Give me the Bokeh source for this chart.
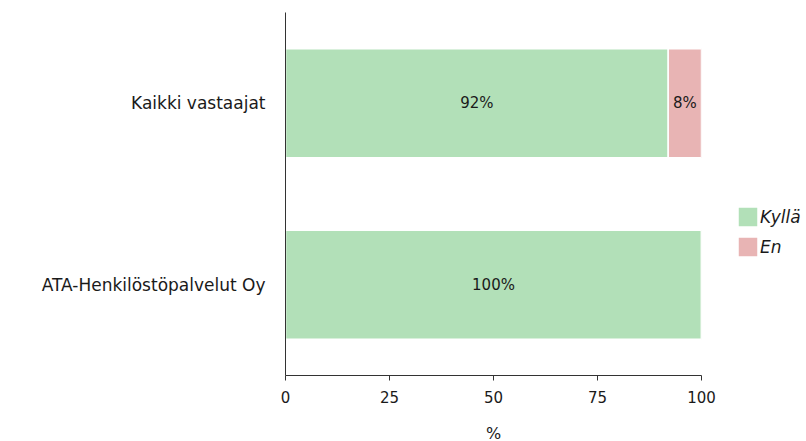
from bokeh.plotting import figure
from bokeh.models import ColumnDataSource, Legend, LegendItem, FactorRange
from bokeh.embed import file_html
from bokeh.resources import INLINE
from bokeh.core.properties import value

categories = ["ATA-Henkilöstöpalvelut Oy", "Kaikki vastaajat"]
kylla = [100, 92]
en = [0, 8]
series = ["Kyllä", "En"]
colors = ["#b2e0b8", "#e8b4b4"]
ticks = [0, 25, 50, 75, 100]

FONT = "DejaVu Sans"

src = ColumnDataSource(dict(cat=categories, Kyllä=kylla, En=en))

p = figure(y_range=FactorRange(*categories, range_padding=0), x_range=(0, 100),
           frame_width=416, frame_height=363, output_backend="svg", toolbar_location=None,
           min_border_left=285, min_border_top=12, min_border_bottom=60, min_border_right=0)

rs = p.hbar_stack(series, y="cat", height=0.6, color=colors, source=src,
                  line_color="white", line_width=1.5)

# labels
lx, ly, lt = [], [], []
for c, k, e in zip(categories, kylla, en):
    if k > 0:
        lx.append(k / 2); ly.append(c); lt.append(f"{k}%")
    if e > 0:
        lx.append(k + e / 2); ly.append(c); lt.append(f"{e}%")
lsrc = ColumnDataSource(dict(x=lx, y=ly, t=lt))
p.text(x="x", y="y", text="t", source=lsrc, text_align="center", text_baseline="middle",
       text_font=value(FONT), text_font_size="15px", text_color="#1a1a1a")

legend = Legend(items=[LegendItem(label=s, renderers=[r]) for s, r in zip(series, rs)],
                location=(34, 116), border_line_color=None, background_fill_alpha=0,
                label_text_font=FONT, label_text_font_style="italic",
                label_text_font_size="17px", label_text_color="#1a1a1a",
                glyph_width=25, glyph_height=25, spacing=5, padding=0,
                label_standoff=0, margin=0)
p.add_layout(legend, "right")

p.xaxis.ticker = ticks
p.xaxis.axis_label = "%"
p.xaxis.axis_label_text_font = FONT
p.xaxis.axis_label_text_font_style = "normal"
p.xaxis.axis_label_text_font_size = "16px"
p.xaxis.axis_label_text_color = "#1a1a1a"
p.xaxis.axis_label_standoff = 18
p.xaxis.major_label_text_font = FONT
p.xaxis.major_label_text_font_size = "15px"
p.xaxis.major_label_text_color = "#1a1a1a"
p.xaxis.major_tick_out = 5
p.xaxis.major_tick_in = 0
p.xaxis.minor_tick_line_color = None
p.xaxis.major_label_standoff = 10
p.xaxis.major_tick_line_color = "#333333"

p.yaxis.major_label_text_font = FONT
p.yaxis.major_label_text_font_size = "17px"
p.yaxis.major_label_text_color = "#1a1a1a"
p.yaxis.major_tick_line_color = None
p.yaxis.major_label_standoff = 14

for ax in (p.xaxis, p.yaxis):
    ax.axis_line_color = "#333333"

p.xgrid.grid_line_color = None
p.ygrid.grid_line_color = None
p.outline_line_color = None

open("out.html", "w").write(file_html(p, INLINE))
